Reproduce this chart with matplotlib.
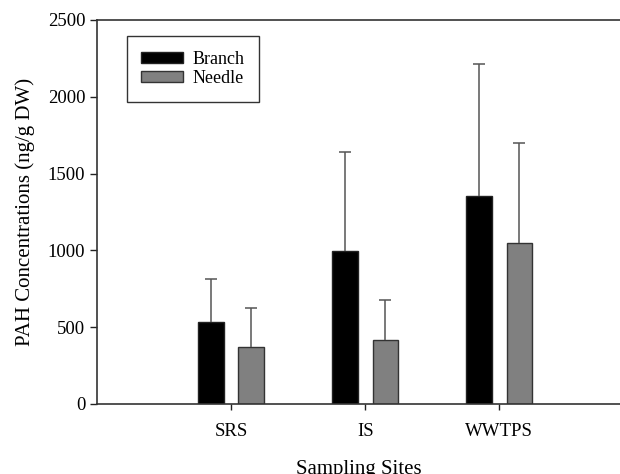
import numpy as np
import matplotlib
matplotlib.use("Agg")
import matplotlib.pyplot as plt

sites = ["SRS", "IS", "WWTPS"]
branch = [535, 995, 1352]
branch_err = [278, 645, 863]
needle = [370, 415, 1048]
needle_err = [255, 265, 652]

plt.rcParams["font.family"] = ["Liberation Serif", "DejaVu Serif"]

fig = plt.figure(figsize=(6.2, 4.74), dpi=100)
ax = fig.add_axes([97 / 620, 1 - 404 / 474, 1 - 97 / 620, 384 / 474])

x = np.arange(1, len(sites) + 1)
w = 0.19
off = 0.15
err_kw = dict(ecolor="#555555", elinewidth=1.1, capsize=4.3, capthick=1.1)
for pos, vals, errs, col, ec, lab in [
        (x - off, branch, branch_err, "black", "#222222", "Branch"),
        (x + off, needle, needle_err, "#808080", "#333333", "Needle")]:
    bc = ax.bar(pos, vals, w, color=col, edgecolor=ec, lw=1,
                yerr=[np.zeros(len(errs)), errs], error_kw=err_kw,
                label=lab, zorder=2)
    # one-sided error bars: hide the lower cap sitting on the bar top
    caps = bc.errorbar.lines[1]
    caps[0].set_visible(False)

ax.set_xlim(0, 3.9)
ax.set_ylim(0, 2500)
ax.set_xticks(x)
ax.set_xticklabels(sites)
ax.set_yticks(np.arange(0, 2501, 500))
ax.tick_params(direction="out", length=5, width=1, labelsize=13.5,
               color="#222222")
ax.tick_params(axis="x", length=4, pad=10)
ax.spines["right"].set_visible(False)
for s in ["left", "top", "bottom"]:
    ax.spines[s].set_linewidth(1.2)
    ax.spines[s].set_color("#333333")

ax.set_xlabel("Sampling Sites", fontsize=15, labelpad=14)
ax.set_ylabel("PAH Concentrations (ng/g DW)", fontsize=15, labelpad=9)

leg = ax.legend(loc="upper left", bbox_to_anchor=(0.057, 0.958),
                borderaxespad=0, fontsize=13, fancybox=False, framealpha=1,
                edgecolor="#333333", handlelength=2.3, handleheight=0.55,
                handletextpad=0.55, borderpad=0.8, labelspacing=0.15)
leg.get_frame().set_linewidth(1)

fig.savefig("out.png", dpi=100)
